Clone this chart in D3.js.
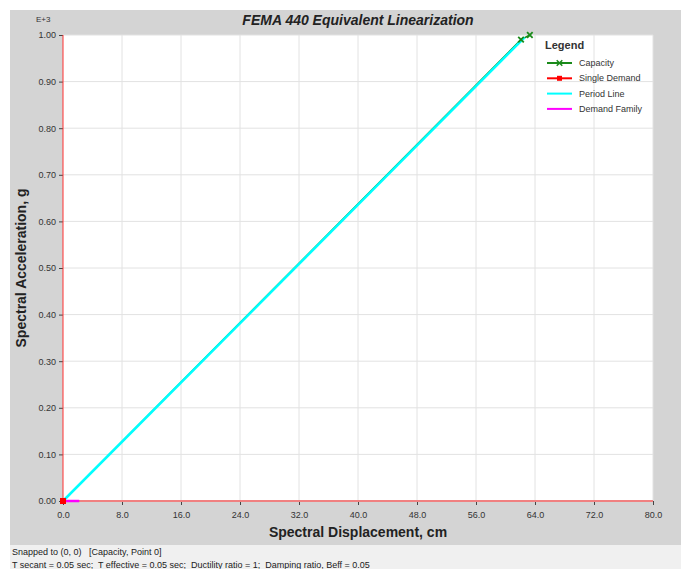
<!DOCTYPE html>
<html>
<head>
<meta charset="utf-8">
<script src="https://cdn.jsdelivr.net/npm/d3@7"></script>
<style>
  body { margin: 0; background: #fff; }
  svg { display: block; font-family: "Liberation Sans", Arial, sans-serif; }
</style>
</head>
<body>
<svg id="chart" width="681" height="569"></svg>
<script>
// chart data (y values are in units of E+3)
const xTicks = [0, 8, 16, 24, 32, 40, 48, 56, 64, 72, 80];
const yTicks = [0, 0.1, 0.2, 0.3, 0.4, 0.5, 0.6, 0.7, 0.8, 0.9, 1.0];
const capacity = [[0, 0], [62.1, 0.99], [63.3, 1.0]];
const periodLine = [[0, 0], [62.6, 0.995]];
const demandFamily = [[0, 0], [2.2, 0]];
const singleDemand = [[0, 0]];
const legendItems = ["Capacity", "Single Demand", "Period Line", "Demand Family"];
const legendColors = ["#1a8a1a", "#ff0000", "#00ffff", "#ff00ff"];
const statusLines = [
  "Snapped to (0, 0)   [Capacity, Point 0]",
  "T secant = 0.05 sec;  T effective = 0.05 sec;  Ductility ratio = 1;  Damping ratio, Beff = 0.05"
];

const svg = d3.select("#chart");
const m = { left: 63, right: 653, top: 35, bottom: 501 };

// backgrounds
svg.append("rect").attr("x", 10).attr("y", 10).attr("width", 671).attr("height", 535).attr("fill", "#d4d4d4");
svg.append("rect").attr("x", 10).attr("y", 545).attr("width", 671).attr("height", 24).attr("fill", "#f0f0f0");
svg.append("rect").attr("x", m.left).attr("y", m.top)
  .attr("width", m.right - m.left).attr("height", m.bottom - m.top).attr("fill", "#fff");

const x = d3.scaleLinear().domain([0, 80]).range([m.left, m.right]);
const y = d3.scaleLinear().domain([0, 1]).range([m.bottom, m.top]);

// grid
svg.append("g").selectAll("line").data(xTicks.slice(1)).join("line")
  .attr("x1", d => x(d)).attr("x2", d => x(d)).attr("y1", m.top).attr("y2", m.bottom)
  .attr("stroke", "#e2e2e2");
svg.append("g").selectAll("line").data(yTicks.slice(1)).join("line")
  .attr("x1", m.left).attr("x2", m.right).attr("y1", d => y(d)).attr("y2", d => y(d))
  .attr("stroke", "#e2e2e2");

// axes
const xAxis = svg.append("g").attr("transform", `translate(0,${m.bottom})`)
  .call(d3.axisBottom(x).tickValues(xTicks).tickFormat(d3.format(".1f")).tickSize(4));
const yAxis = svg.append("g").attr("transform", `translate(${m.left},0)`)
  .call(d3.axisLeft(y).tickValues(yTicks).tickFormat(d3.format(".2f")).tickSize(4));
[xAxis, yAxis].forEach(a => {
  a.select(".domain").remove();
  a.selectAll(".tick line").attr("stroke", "#444");
  a.selectAll(".tick text").attr("fill", "#333").style("font-size", "9px");
});
xAxis.selectAll(".tick text").attr("dy", "1.1em");

// zero lines
svg.append("line").attr("x1", x(0)).attr("x2", x(80)).attr("y1", y(0)).attr("y2", y(0))
  .attr("stroke", "#f08080").attr("stroke-width", 2);
svg.append("line").attr("x1", x(0)).attr("x2", x(0)).attr("y1", y(0)).attr("y2", y(1))
  .attr("stroke", "#ff3030").attr("stroke-width", 1);

const line = d3.line().x(d => x(d[0])).y(d => y(d[1]));

svg.append("path").datum(capacity).attr("d", line)
  .attr("fill", "none").attr("stroke", "#1a8a1a").attr("stroke-width", 1.5);
svg.append("path").datum(demandFamily).attr("d", line)
  .attr("fill", "none").attr("stroke", "#ff00ff").attr("stroke-width", 2.5);
svg.append("path").datum(periodLine).attr("d", line)
  .attr("fill", "none").attr("stroke", "#00ffff").attr("stroke-width", 2.5);

const cross = d3.symbol().type(d3.symbolX).size(22);
svg.append("g").selectAll("path").data(capacity.slice(1)).join("path")
  .attr("transform", d => `translate(${x(d[0])},${y(d[1])})`)
  .attr("d", cross).attr("fill", "none").attr("stroke", "#1a8a1a").attr("stroke-width", 1.8);
svg.append("g").selectAll("rect").data(singleDemand).join("rect")
  .attr("x", d => x(d[0]) - 3).attr("y", d => y(d[1]) - 3)
  .attr("width", 6).attr("height", 6).attr("fill", "#ff0000");

// legend
const lg = svg.append("g").attr("transform", "translate(545,0)");
lg.append("text").attr("x", 0).attr("y", 49).text("Legend")
  .style("font-size", "11px").style("font-weight", "bold").attr("fill", "#333");
legendItems.forEach((name, i) => {
  const yy = 63 + i * 15.3;
  lg.append("line").attr("x1", 2).attr("x2", 27).attr("y1", yy).attr("y2", yy)
    .attr("stroke", legendColors[i]).attr("stroke-width", 2);
  if (i === 0) lg.append("path").attr("transform", `translate(14.5,${yy})`)
    .attr("d", cross).attr("fill", "none").attr("stroke", legendColors[i]).attr("stroke-width", 1.5);
  if (i === 1) lg.append("rect").attr("x", 12).attr("y", yy - 2.5).attr("width", 5).attr("height", 5)
    .attr("fill", legendColors[i]);
  lg.append("text").attr("x", 34).attr("y", yy + 3).text(name)
    .style("font-size", "9px").attr("fill", "#333");
});

// titles
svg.append("text").attr("x", 358).attr("y", 25).attr("text-anchor", "middle")
  .text("FEMA 440 Equivalent Linearization")
  .style("font-size", "14px").style("font-weight", "bold").style("font-style", "italic").attr("fill", "#222");
svg.append("text").attr("x", 36).attr("y", 22).text("E+3")
  .style("font-size", "8px").attr("fill", "#333");
svg.append("text").attr("x", 358).attr("y", 537).attr("text-anchor", "middle")
  .text("Spectral Displacement, cm")
  .style("font-size", "14px").style("font-weight", "bold").attr("fill", "#222");
svg.append("text").attr("transform", "translate(26,268) rotate(-90)").attr("text-anchor", "middle")
  .text("Spectral Acceleration, g")
  .style("font-size", "14px").style("font-weight", "bold").attr("fill", "#222");

// status bar
statusLines.forEach((t, i) => {
  svg.append("text").attr("x", 12).attr("y", 555 + i * 13).text(t)
    .style("font-size", "9px").style("white-space", "pre").attr("fill", "#222");
});
</script>
</body>
</html>
